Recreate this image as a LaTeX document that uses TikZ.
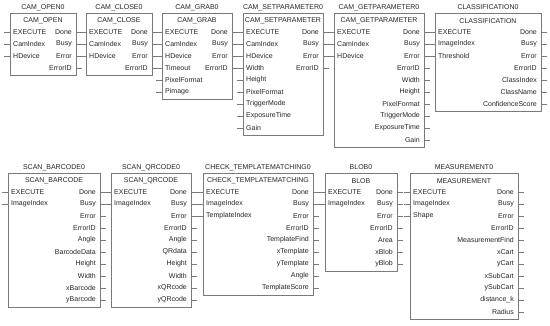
\documentclass[tikz,border=0pt]{standalone}
\usepackage{fontspec}
\setmainfont{Liberation Sans}
\usetikzlibrary{fit}
\definecolor{fbline}{HTML}{7A7A7A}
\definecolor{fbtext}{HTML}{262626}
\tikzset{
  fbbox/.style={draw=fbline, line width=0.9pt, inner sep=0pt, fill=white},
  fbpin/.style={draw=fbline, line width=0.8pt},
  fblab/.style={text=fbtext, font=\fontsize{7}{8}\selectfont, inner sep=0pt},
}
% #1 name, #2 left x, #3 right x, #4 top y, #5 bottom y, #6 instance, #7 type, #8 inputs, #9 outputs
\newcommand\fblock[9]{%
  \node[fbbox, fit={(#2,#4) (#3,#5)}] (#1) {};
  \node[fblab] (#1-inst) at ({(#2+#3)/2},#4-5.5) {#6};
  \node[fblab] (#1-type) at ({(#2+#3)/2},#4+8) {#7};
  \foreach \l [count=\i] in {#8} {
    \pgfmathsetmacro\yy{#4+19+12*(\i-1)}
    \node[fblab, anchor=west] (#1-in\i) at (#2+3,\yy) {\l};
    \coordinate (#1-pi\i) at (#2-6,\yy);
    \draw[fbpin] (#1.west |- #1-pi\i) -- (#1-pi\i);
  }
  \foreach \l [count=\i] in {#9} {
    \pgfmathsetmacro\yy{#4+19+12*(\i-1)}
    \node[fblab, anchor=east] (#1-out\i) at (#3-4,\yy) {\l};
    \coordinate (#1-po\i) at (#3+6,\yy);
    \draw[fbpin] (#1.east |- #1-po\i) -- (#1-po\i);
  }
}
\begin{document}
\begin{tikzpicture}[x=1pt,y=-1pt]
\useasboundingbox[fill=white] (0,0) rectangle (550,325);
\fblock{open}{10}{76}{13}{75}{CAM\_OPEN0}{CAM\_OPEN}{EXECUTE,CamIndex,HDevice}{Done,Busy,Error,ErrorID}
\fblock{close}{86}{152}{13}{75}{CAM\_CLOSE0}{CAM\_CLOSE}{EXECUTE,CamIndex,HDevice}{Done,Busy,Error,ErrorID}
\fblock{grab}{162}{232}{13}{99}{CAM\_GRAB0}{CAM\_GRAB}{EXECUTE,CamIndex,HDevice,Timeout,PixelFormat,Pimage}{Done,Busy,Error,ErrorID}
\fblock{setp}{243}{323}{13}{135}{CAM\_SETPARAMETER0}{CAM\_SETPARAMETER}{EXECUTE,CamIndex,HDevice,Width,Height,PixelFormat,TriggerMode,ExposureTime,Gain}{Done,Busy,Error,ErrorID}
\fblock{getp}{334}{424}{13}{147}{CAM\_GETPARAMETER0}{CAM\_GETPARAMETER}{EXECUTE,CamIndex,HDevice}{Done,Busy,Error,ErrorID,Width,Height,PixelFormat,TriggerMode,ExposureTime,Gain}
\fblock{cls}{435}{541}{13}{111}{CLASSIFICATION0}{CLASSIFICATION}{EXECUTE,ImageIndex,Threshold}{Done,Busy,Error,ErrorID,ClassIndex,ClassName,ConfidenceScore}
\fblock{bar}{8}{100}{173}{307}{SCAN\_BARCODE0}{SCAN\_BARCODE}{EXECUTE,ImageIndex}{Done,Busy,Error,ErrorID,Angle,BarcodeData,Height,Width,xBarcode,yBarcode}
\fblock{qr}{111}{191}{173}{307}{SCAN\_QRCODE0}{SCAN\_QRCODE}{EXECUTE,ImageIndex}{Done,Busy,Error,ErrorID,Angle,QRdata,Height,Width,xQRcode,yQRcode}
\fblock{tm}{203}{313}{173}{295}{CHECK\_TEMPLATEMATCHING0}{CHECK\_TEMPLATEMATCHING}{EXECUTE,ImageIndex,TemplateIndex}{Done,Busy,Error,ErrorID,TemplateFind,xTemplate,yTemplate,Angle,TemplateScore}
\fblock{blob}{325}{397}{173}{271}{BLOB0}{BLOB}{EXECUTE,ImageIndex}{Done,Busy,Error,ErrorID,Area,xBlob,yBlob}
\fblock{meas}{410}{518}{173}{319}{MEASUREMENT0}{MEASUREMENT}{EXECUTE,ImageIndex,Shape}{Done,Busy,Error,ErrorID,MeasurementFind,xCart,yCart,xSubCart,ySubCart,distance\_k,Radius}
\end{tikzpicture}
\end{document}
